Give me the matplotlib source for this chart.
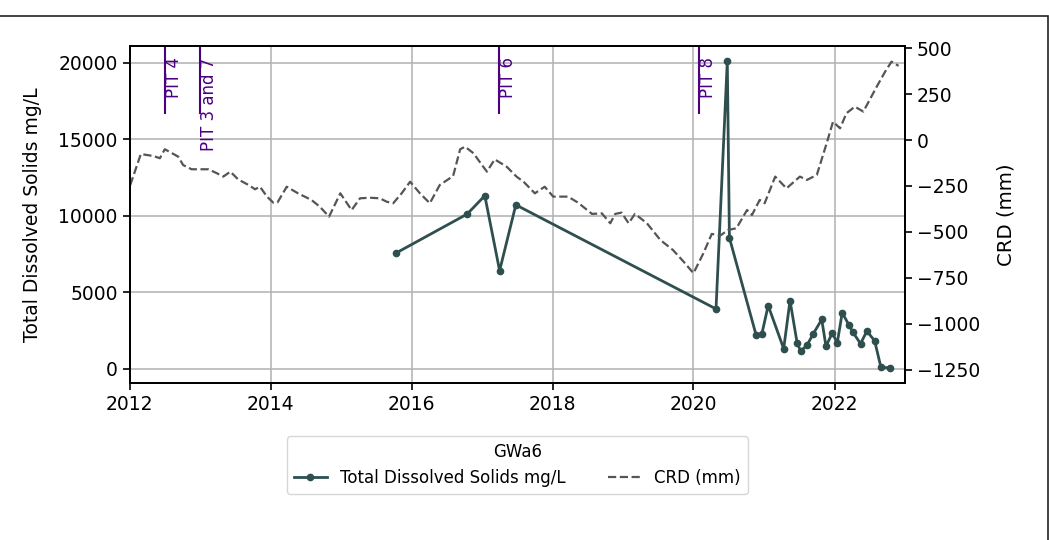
"""
    TDS at GWa6 against the CRD series,
    with pit timings marked along the top.
"""
#%%
import numpy as np
import pandas as pd
import matplotlib.pyplot as plt
import matplotlib.dates as mdates
from matplotlib.ticker import MultipleLocator
from matplotlib.patches import Rectangle

# sample dates (decimal years) and total dissolved solids (mg/L)
tds_year = [2015.78, 2016.79, 2017.04, 2017.25, 2017.48, 2020.32, 2020.48, 2020.51,
            2020.89, 2020.97, 2021.06, 2021.28, 2021.37, 2021.47, 2021.52, 2021.61,
            2021.70, 2021.82, 2021.88, 2021.97, 2022.04, 2022.11, 2022.21, 2022.26,
            2022.37, 2022.46, 2022.57, 2022.66, 2022.79]
tds_val = [7550, 10100, 11300, 6400, 10700, 3900, 20100, 8550,
           2170, 2260, 4120, 1300, 4450, 1690, 1150, 1520,
           2280, 3210, 1460, 2330, 1670, 3650, 2820, 2390,
           1630, 2450, 1820, 80, 60]

# cumulative rainfall departure (mm)
crd_year = [2012.01, 2012.16, 2012.34, 2012.43, 2012.50, 2012.69, 2012.76, 2012.88,
            2013.00, 2013.12, 2013.24, 2013.33, 2013.43, 2013.54, 2013.69, 2013.78,
            2013.85, 2013.95, 2014.04, 2014.10, 2014.23, 2014.39, 2014.58, 2014.70,
            2014.83, 2014.99, 2015.15, 2015.27, 2015.41, 2015.55, 2015.65, 2015.74,
            2015.86, 2015.98, 2016.12, 2016.26, 2016.40, 2016.59, 2016.69, 2016.76,
            2016.88, 2017.00, 2017.07, 2017.18, 2017.35, 2017.49, 2017.59, 2017.75,
            2017.89, 2018.01, 2018.22, 2018.36, 2018.56, 2018.70, 2018.82, 2018.89,
            2018.98, 2019.08, 2019.17, 2019.34, 2019.53, 2019.71, 2019.86, 2020.00,
            2020.14, 2020.26, 2020.38, 2020.49, 2020.61, 2020.76, 2020.83, 2020.94,
            2021.01, 2021.16, 2021.32, 2021.51, 2021.61, 2021.75, 2021.89, 2021.98,
            2022.08, 2022.17, 2022.29, 2022.41, 2022.60, 2022.72, 2022.81, 2022.91]
crd_val = [-245, -76, -87, -99, -50, -90, -136, -159,
           -159, -159, -181, -199, -172, -214, -245, -268,
           -254, -308, -341, -339, -254, -290, -326, -363,
           -417, -290, -381, -317, -314, -317, -336, -344,
           -290, -227, -290, -344, -245, -196, -50, -36,
           -72, -136, -172, -105, -145, -199, -227, -290,
           -254, -308, -308, -340, -402, -399, -453, -402,
           -395, -453, -402, -453, -544, -599, -662, -725,
           -617, -511, -520, -490, -480, -381, -408, -326,
           -344, -199, -263, -199, -217, -190, -17, 100,
           64, 146, 182, 155, 291, 373, 427, 404]

# pit events
pit_year = [2012.50, 2013.00, 2017.245, 2020.08]
pit_label = ["PIT 4", "PIT 3 and 7", "PIT 6", "PIT 8"]


def to_dates(years):
    years = np.asarray(years)
    return pd.to_datetime("2012-01-01") + pd.to_timedelta((years - 2012) * 365.25, unit="D")


fig = plt.figure(figsize=(10.49, 5.4), dpi=100)
ax = fig.add_axes([0.1235, 0.2907, 0.7392, 0.6247])
ax2 = ax.twinx()

ln1, = ax.plot(to_dates(tds_year), tds_val, color="darkslategray", marker="o",
               markersize=4.5, lw=2, label="Total Dissolved Solids mg/L")
ln2, = ax2.plot(to_dates(crd_year), crd_val, color="#555555", ls="--", lw=1.6,
                label="CRD (mm)")

# pit markers along the top
for yr, lab in zip(pit_year, pit_label):
    d = to_dates([yr])[0]
    ax.axvline(d, ymin=0.8, ymax=1, color="indigo", lw=1.5)
    ax.text(d, 0.965, lab, transform=ax.get_xaxis_transform(), rotation=90,
            va="top", ha="left", color="indigo", fontsize=12)

ax.set_xlim(pd.Timestamp("2012-01-01"), pd.Timestamp("2023-01-01"))
ax.xaxis.set_major_locator(mdates.YearLocator(2))
ax.xaxis.set_major_formatter(mdates.DateFormatter("%Y"))
ax.grid(True, color="#b0b0b0", lw=1.1)

ax2.set_ylim(-1323, 514)
ax2.yaxis.set_major_locator(MultipleLocator(250))

ax.set_ylabel("Total Dissolved Solids mg/L", fontsize=13.5, labelpad=12)
ax2.set_ylabel("CRD (mm)", fontsize=14.2, labelpad=12)
for a in (ax, ax2):
    a.tick_params(labelsize=13.5, length=5, width=1.2)
    for s in a.spines.values():
        s.set_linewidth(1.3)

ax.legend(handles=[ln1, ln2], title="GWa6", ncol=2, loc="upper center",
          bbox_to_anchor=(0.5, -0.133), fontsize=12, title_fontsize=12,
          columnspacing=2.5)

# frame of the original figure
fig.patches.append(Rectangle((-0.05, -0.05), 1.05 + 1047.5 / 1049 - 1, 1.05 - 15.7 / 540,
                             transform=fig.transFigure, fill=False,
                             edgecolor="#222222", lw=1.2, clip_on=False))

plt.savefig("out.png", dpi=100)
# %%
